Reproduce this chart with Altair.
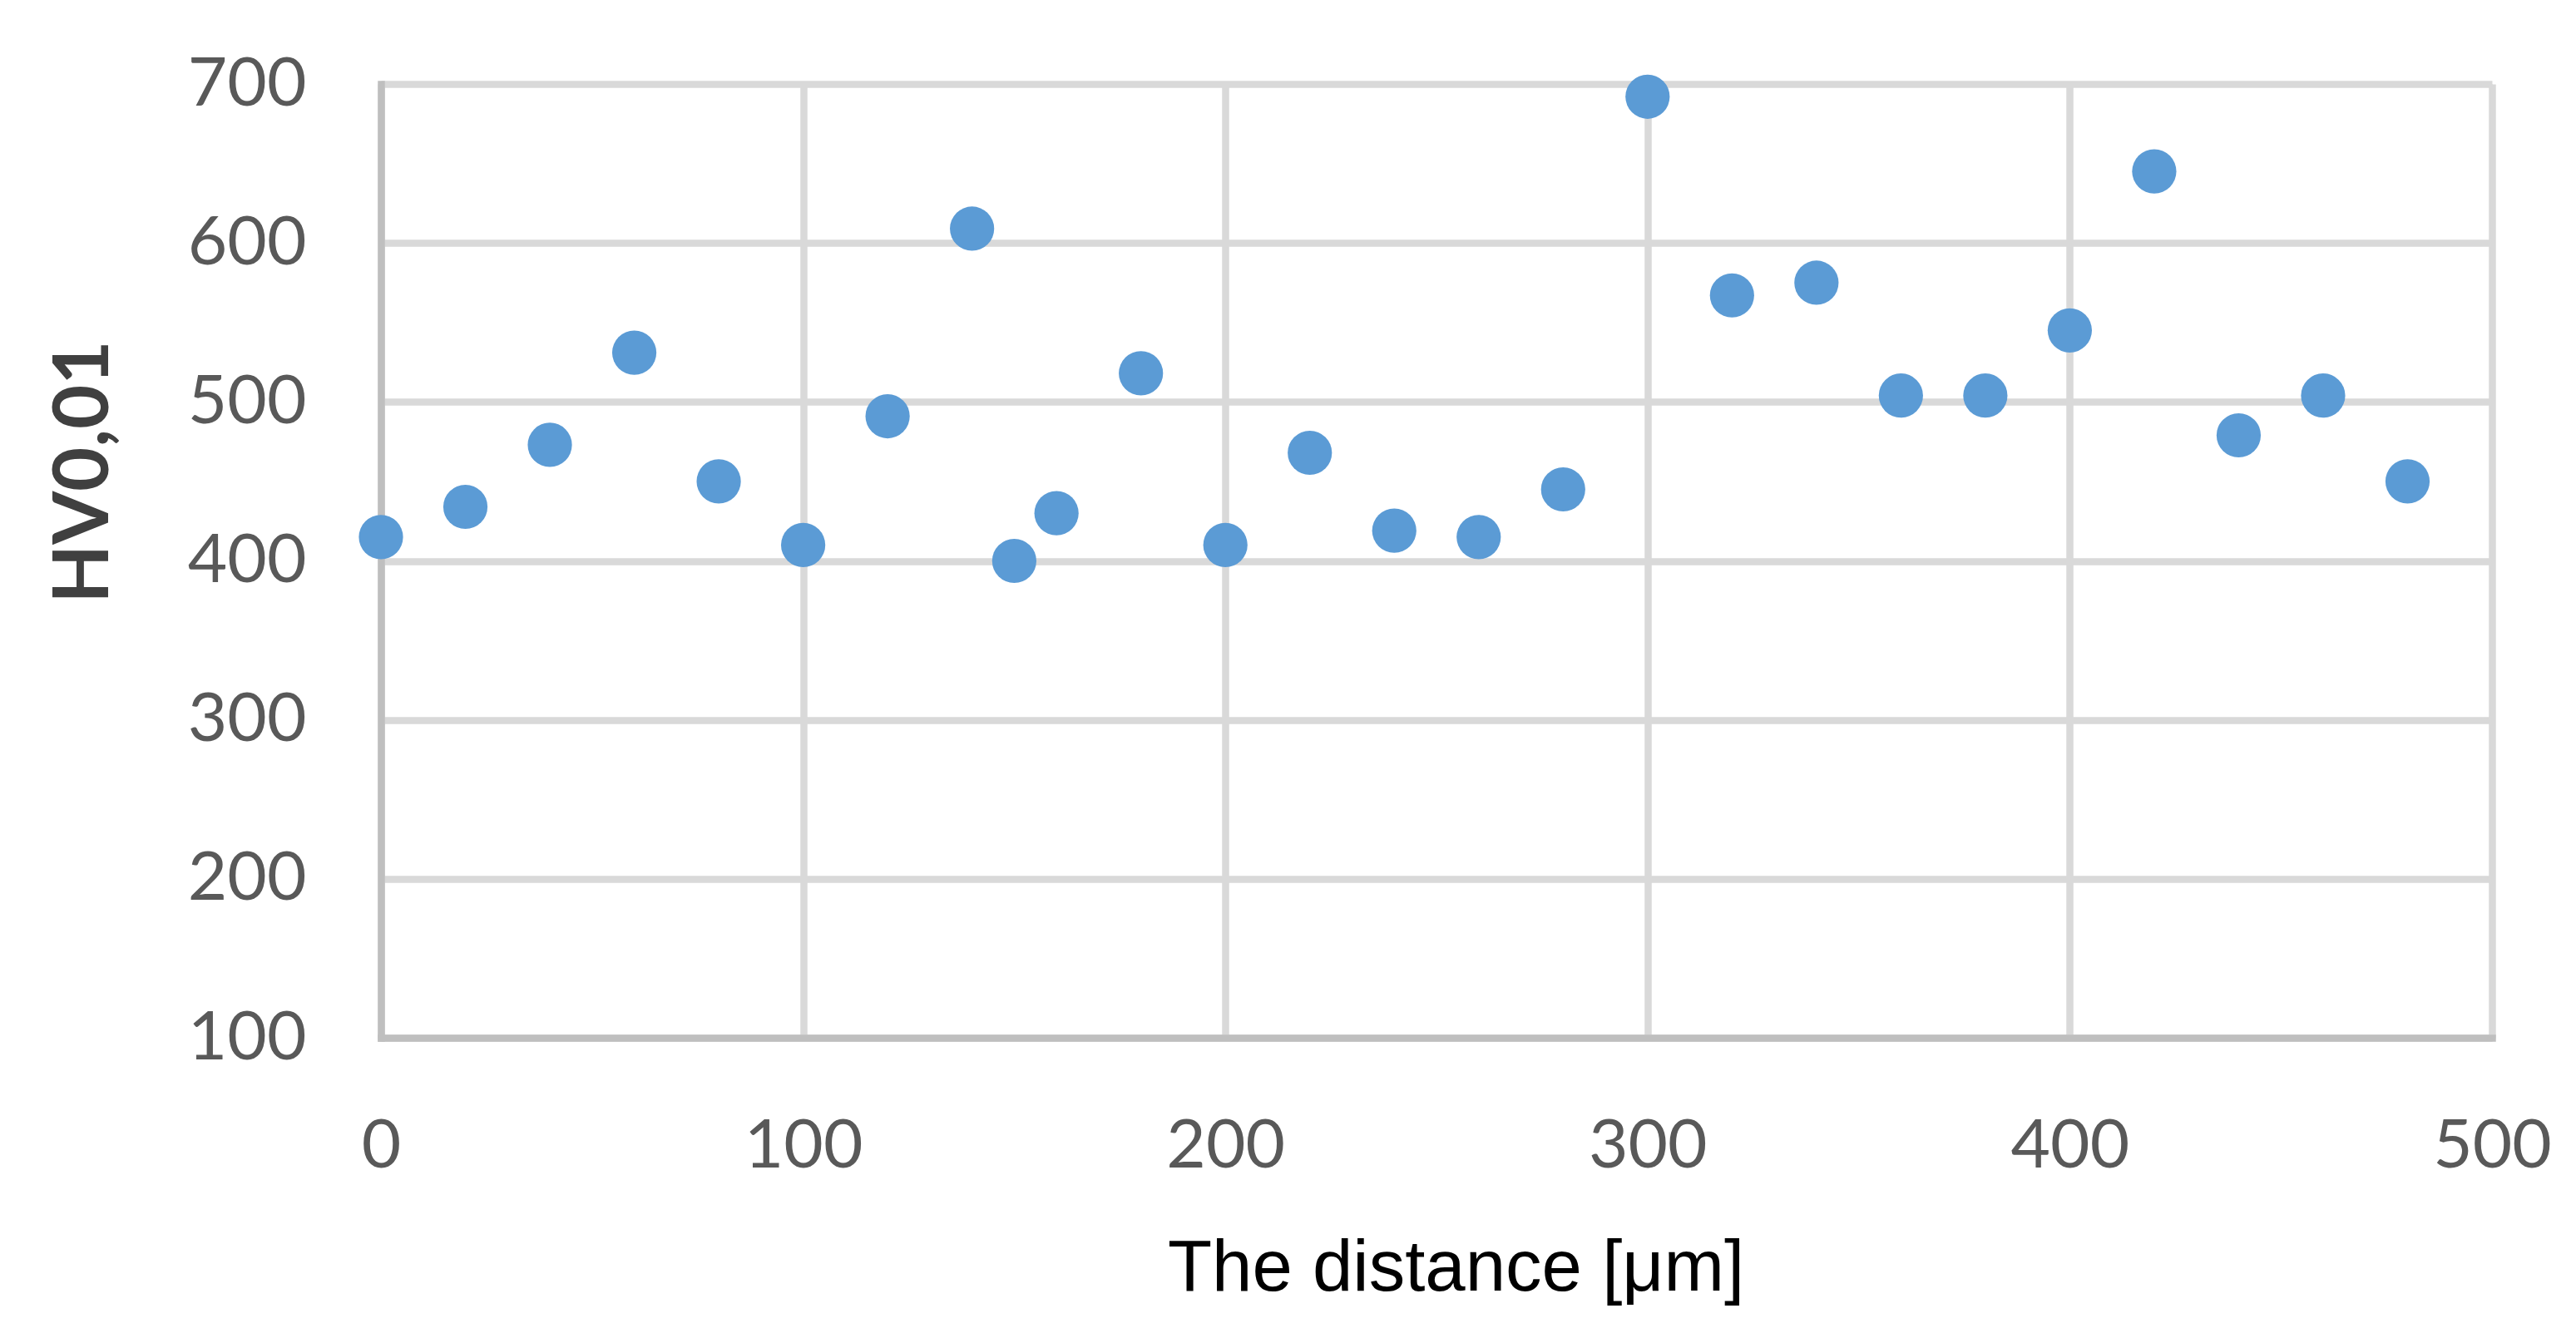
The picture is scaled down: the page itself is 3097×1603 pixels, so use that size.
import altair as alt
import pandas as pd

distance = [0, 20, 40, 60, 80, 100, 120, 140, 150, 160, 180, 200, 220, 240, 260,
            280, 300, 320, 340, 360, 380, 400, 420, 440, 460, 480]
hardness = [415, 434, 473, 531, 450, 410, 491, 609, 400, 430, 518, 410, 468, 419, 415,
            445, 692, 567, 575, 504, 504, 545, 645, 479, 504, 450]

x_ticks = [0, 100, 200, 300, 400, 500]
y_ticks = [100, 200, 300, 400, 500, 600, 700]

df = pd.DataFrame({"d": distance, "hv": hardness})

chart = alt.Chart(df).mark_circle(size=2830, color="#5B9BD5", opacity=1).encode(
    x=alt.X("d:Q",
            scale=alt.Scale(domain=[0, 500], nice=False, zero=False),
            axis=alt.Axis(values=x_ticks, title="The distance [μm]",
                          grid=True, gridColor="#D9D9D9", gridWidth=8.5,
                          domainColor="#BFBFBF", domainWidth=8.5, domainCap="square",
                          ticks=False, tickSize=0, labelFlush=False,
                          labelFont="Lato", labelFontSize=82, labelColor="#595959",
                          labelPadding=90, labelBaseline="top",
                          titleFont="Liberation Sans", titleFontSize=87,
                          titleFontWeight="normal", titleColor="#000000",
                          titleX=1292, titleY=303, titleAlign="center",
                          titleBaseline="alphabetic")),
    y=alt.Y("hv:Q",
            scale=alt.Scale(domain=[100, 700], nice=False, zero=False),
            axis=alt.Axis(values=y_ticks, title="HV0,01",
                          grid=True, gridColor="#D9D9D9", gridWidth=8.5,
                          domainColor="#BFBFBF", domainWidth=8.5, domainCap="square",
                          ticks=False, tickSize=0, labelFlush=False,
                          labelFont="Lato", labelFontSize=82, labelColor="#595959",
                          labelPadding=90, labelAlign="right", labelBaseline="middle",
                          titleFont="Lato", titleFontSize=92, titleFontWeight="bold",
                          titleColor="#404040", titleAngle=270,
                          titleX=-329, titleY=466, titleAlign="center",
                          titleBaseline="alphabetic")),
).properties(
    width=2538, height=1147,
    padding={"left": 450, "top": 93, "right": 80, "bottom": 340},
    autosize="none",
).configure_view(stroke=None).configure(background="white")

chart.save("out.html", embed_options={"renderer": "svg", "actions": False})
